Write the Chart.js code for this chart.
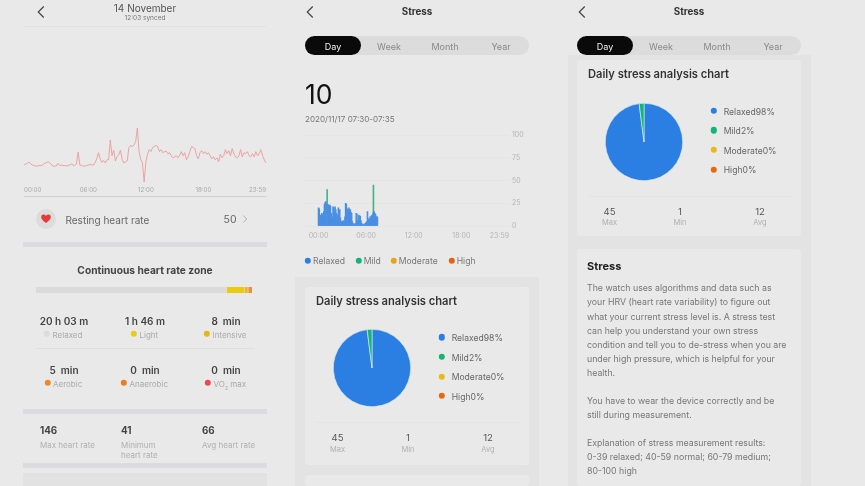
<!DOCTYPE html>
<html>
<head>
<meta charset="utf-8">
<script src="https://cdn.jsdelivr.net/npm/chart.js@4"></script>
<style>
  html, body { margin: 0; padding: 0; }
  body { width: 865px; height: 486px; overflow: hidden; position: relative; background: #e9e9e9; font-family: Inter, "Noto Sans", sans-serif; filter: blur(0.4px); }
  .t { position: absolute; white-space: nowrap; line-height: 1; transform: translateY(-50%); }
  .c { transform: translate(-50%, -50%); }
  .box { position: absolute; }
  .dot { position: absolute; border-radius: 50%; width: 6.4px; height: 6.4px; transform: translate(-50%, -50%); }
  canvas { position: absolute; display: block; }
  svg { position: absolute; overflow: visible; }
</style>
</head>
<body>
<div id="page"></div>
<canvas id="heartChart" width="242" height="72" style="left:24px;top:126px;width:242px;height:72px"></canvas>
<canvas id="zoneChart" width="216" height="6" style="left:36px;top:287px;width:216px;height:6px"></canvas>
<canvas id="stressChart" width="231" height="118" style="left:304px;top:128px;width:231px;height:118px"></canvas>
<canvas id="pieOne" width="82" height="82" style="left:331px;top:327px;width:82px;height:82px"></canvas>
<canvas id="pieTwo" width="82" height="82" style="left:603px;top:101px;width:82px;height:82px"></canvas>
<script>
// heart rate, one reading every 10 min
const heartRate = [
  74, 76, 77, 80, 76, 74, 73, 72, 72, 73, 73, 74, 77, 78, 80, 79, 76, 72, 72, 72, 77, 73, 74, 73,
  73, 72, 73, 74, 76, 74, 73, 76, 99, 74, 73, 72, 72, 73, 74, 75, 74, 74, 79, 86, 98, 86, 79, 83,
  78, 84, 85, 123, 92, 103, 82, 90, 94, 103, 85, 78, 80, 82, 108, 112, 110, 113, 120, 146, 100, 85, 78, 41,
  80, 95, 104, 100, 108, 110, 112, 110, 100, 104, 98, 100, 101, 96, 98, 92, 88, 90, 92, 88, 93, 100, 92, 98,
  84, 90, 100, 110, 108, 106, 92, 86, 98, 102, 96, 100, 95, 98, 92, 86, 90, 84, 88, 80, 95, 88, 92, 104,
  96, 102, 92, 106, 96, 90, 88, 92, 104, 90, 98, 96, 100, 92, 90, 96, 90, 100, 92, 96, 104, 92, 84, 78,
];
const heartTicks = { 0: "00:00", 38: "06:00", 72: "12:00", 106: "18:00", 143: "23:59" };

// stress, one reading every 5 min, up to 07:30
const stressRelaxed = [
  20, 19, 8, 12, 12, 14, 12, 13, 16, 24, 26, 27, 25, 22, 24, 23, 22, 23, 22, 14, 8, 10, 21, 20, 16, 21, 18, 14, 12, 10,
  20, 17, 18, 9, 5, 5, 5, 6, 5, 6, 10, 25, 24, 10, 19, 15, 20, 17, 18, 15, 14, 5, 3, 2, 2, 1, 3, 14, 13, 6,
  4, 12, 10, 11, 6, 3, 2, 1, 1, 2, 2, 3, 4, 5, 16, 8, 7, 8, 10, 9, 11, 12, 13, 15, 16, 14, 13, 11, 9, 10,
];
const stressMildSlots = [13, 83];
const stressMildValues = [40, 45];
const stressTicks = { 0: "00:00", 72: "06:00", 144: "12:00", 216: "18:00", 288: "23:59" };
const stressYTicks = [0, 25, 50, 75, 100];

const levels = ["Relaxed", "Mild", "Moderate", "High"];
const levelShares = [98, 2, 0, 0];
const levelColors = ["#2b7fe3", "#12b577", "#ecb90e", "#e8680f"];
const legendColors = ["#2b7fe3", "#12b577", "#e9a413", "#e5620f"];

const zoneMinutes = [1165, 106, 23, 26];
const zoneColors = ["#dbdbdb", "#e8cc12", "#ecb33a", "#ec8f3c"];

const page = document.getElementById("page");

function text(str, x, y, size, color, weight, center) {
  const el = document.createElement("div");
  el.className = center ? "t c" : "t";
  el.style.cssText = `left:${x}px;top:${y + 0.7}px;font-size:${size}px;color:${color};font-weight:${weight || 400}`;
  el.innerHTML = str;
  page.appendChild(el);
}

function box(x, y, w, h, color, radius) {
  const el = document.createElement("div");
  el.className = "box";
  el.style.cssText = `left:${x}px;top:${y}px;width:${w}px;height:${h}px;background:${color};border-radius:${radius || 0}px`;
  page.appendChild(el);
}

function dot(x, y, color) {
  const el = document.createElement("div");
  el.className = "dot";
  el.style.cssText = `left:${x}px;top:${y}px;background:${color}`;
  page.appendChild(el);
}

function chevron(x, y, dir, size, color, width) {
  const s = document.createElementNS("http://www.w3.org/2000/svg", "svg");
  s.setAttribute("width", 1);
  s.setAttribute("height", 1);
  s.style.cssText = `left:${x}px;top:${y}px`;
  s.innerHTML = `<polyline points="${dir * size},${-size} 0,0 ${dir * size},${size}" transform="translate(${-dir * size / 2},0)" fill="none" stroke="${color}" stroke-width="${width}"/>`;
  page.appendChild(s);
}

// ---- left panel ----
chevron(41, 12, 1, 5.5, "#444", 1.2);
text("14 November", 145, 7, 10, "#555", 400, true);
text("12:03 synced", 145, 17.5, 6.5, "#777", 400, true);
box(24, 25.5, 242, 1, "#e2e2e2");
box(24, 196, 242, 1, "#cfcfcf");

box(36, 209, 20, 20, "#dcdcdc", 10);
const heart = document.createElementNS("http://www.w3.org/2000/svg", "svg");
heart.style.cssText = "left:41px;top:214px";
heart.setAttribute("width", 10);
heart.setAttribute("height", 10);
heart.innerHTML = '<path d="M5 9 C1 6 0.2 4.5 0.2 3 C0.2 1.4 1.4 0.6 2.6 0.6 C3.6 0.6 4.5 1.2 5 2 C5.5 1.2 6.4 0.6 7.4 0.6 C8.6 0.6 9.8 1.4 9.8 3 C9.8 4.5 9 6 5 9 Z" fill="#e8393c"/>';
page.appendChild(heart);
text("Resting heart rate", 65.5, 219, 10, "#666");
text("50", 223.5, 219, 10.5, "#666");
chevron(245, 219, -1, 3.5, "#aaa", 0.9);

box(23, 241.5, 244, 5.5, "#dcdcdf");
text("Continuous heart rate zone", 145, 269, 10.2, "#444", 700, true);

const zoneRowOne = [
  ["20 h 03 m", 64, "Relaxed", 47, "#dcdcdc"],
  ["1 h 46 m", 145, "Light", 134, "#e6cf10"],
  ["8&nbsp; min", 226, "Intensive", 207, "#e9b418"],
];
const zoneRowTwo = [
  ["5&nbsp; min", 64, "Aerobic", 47.5, "#ec8a2a"],
  ["0&nbsp; min", 145, "Anaerobic", 124, "#e87c22"],
  ["0&nbsp; min", 226, "VO<sub style='font-size:5px;line-height:0'>2</sub> max", 208, "#e84a55"],
];
zoneRowOne.forEach((z) => {
  text(z[0], z[1], 320, 10, "#444", 600, true);
  dot(z[3], 334, z[4]);
  text(z[2], z[3] + 5.5, 334, 8, "#aaa");
});
box(36, 347.5, 218, 1, "#dedede");
zoneRowTwo.forEach((z) => {
  text(z[0], z[1], 369, 10, "#444", 600, true);
  dot(z[3], 383, z[4]);
  text(z[2], z[3] + 5.5, 383, 8, "#aaa");
});

box(23, 408.5, 244, 5, "#dcdcdf");
text("146", 40, 430, 9.8, "#444", 700);
text("41", 121, 430, 9.8, "#444", 700);
text("66", 202, 430, 9.8, "#444", 700);
text("Max heart rate", 40, 444.5, 8, "#b0b0b0");
text("Minimum", 121, 444.5, 8, "#b0b0b0");
text("heart rate", 121, 454.5, 8, "#b0b0b0");
text("Avg heart rate", 202, 444.5, 8, "#b0b0b0");
box(23, 462.5, 244, 5, "#dcdcdf");
box(23, 473, 244, 13, "#e2e2e3");

// ---- header used by both stress panels ----
function stressHeader(dx) {
  chevron(310 + dx, 12, 1, 5.5, "#444", 1.2);
  text("Stress", 417 + dx, 11.5, 9.8, "#333", 700, true);
  box(305 + dx, 36, 224, 19, "#dcdcdc", 9.5);
  box(305 + dx, 36, 56, 19, "#0a0a0a", 9.5);
  text("Day", 333 + dx, 45.2, 9, "#eee", 400, true);
  text("Week", 389 + dx, 45.2, 9, "#888", 400, true);
  text("Month", 445 + dx, 45.2, 9, "#888", 400, true);
  text("Year", 501 + dx, 45.2, 9, "#888", 400, true);
}

function analysisCard(dx, dy) {
  text("Daily stress analysis chart", 316 + dx, 301 + dy, 11.15, "#333", 600);
  levels.forEach((name, i) => {
    const y = 337.3 + i * 19.6 + dy;
    dot(441.8 + dx, y, levelColors[i]);
    text(name + levelShares[i] + "%", 451.7 + dx, y, 8.6, "#666");
  });
  box(316 + dx, 422 + dy, 203, 1, "#e4e4e4");
  text("45", 337.5 + dx, 437.7 + dy, 9.5, "#555", 400, true);
  text("Max", 337.5 + dx, 449 + dy, 7.5, "#b0b0b0", 400, true);
  text("1", 408 + dx, 437.7 + dy, 9.5, "#555", 400, true);
  text("Min", 408 + dx, 449 + dy, 7.5, "#b0b0b0", 400, true);
  text("12", 488 + dx, 437.7 + dy, 9.5, "#555", 400, true);
  text("Avg", 488 + dx, 449 + dy, 7.5, "#b0b0b0", 400, true);
}

// ---- middle panel ----
box(295, 277, 244, 209, "#e3e3e3");
box(305, 287, 224, 178, "#e9e9e9", 3);
box(305, 475, 224, 11, "#e9e9e9", 3);
stressHeader(0);
text("10", 305, 93, 26.5, "#111");
text("2020/11/17 07:30-07:35", 305, 118, 8.1, "#777");
levels.forEach((name, i) => {
  const dots = [308, 358.7, 393.7, 451.7];
  dot(dots[i], 260.7, legendColors[i]);
  text(name, dots[i] + 5, 260.7, 8.6, "#777");
});
analysisCard(0, 0);

// ---- right panel ----
box(568, 55, 243, 431, "#e3e3e3");
box(577, 60, 224, 176, "#e9e9e9", 3);
box(577, 249, 224, 237, "#e9e9e9", 3);
stressHeader(272);
analysisCard(272, -226.5);
text("Stress", 587, 265.5, 11, "#222", 700);

const stressNotes = [
  "The watch uses algorithms and data such as",
  "your HRV (heart rate variability) to figure out",
  "what your current stress level is. A stress test",
  "can help you understand your own stress",
  "condition and tell you to de-stress when you are",
  "under high pressure, which is helpful for your",
  "health.",
  "",
  "You have to wear the device correctly and be",
  "still during measurement.",
  "",
  "Explanation of stress measurement results:",
  "0-39 relaxed; 40-59 normal; 60-79 medium;",
  "80-100 high",
];
stressNotes.forEach((line, i) => {
  if (line) text(line, 587, 287.7 + i * 14.05, 8.78, "#777");
});

// ---- charts ----
function noSidePadding(axis, height) {
  axis.height = height;
  axis.paddingLeft = 0;
  axis.paddingRight = 0;
}

new Chart(document.getElementById("heartChart"), {
  type: "line",
  data: {
    labels: heartRate.map((v, i) => i),
    datasets: [{ data: heartRate, borderColor: "#ea9c9b", borderWidth: 0.9, pointRadius: 0, tension: 0 }],
  },
  options: {
    responsive: false,
    animation: false,
    layout: { padding: { top: 2, left: 0, right: 0, bottom: 0 } },
    plugins: { legend: { display: false }, tooltip: { enabled: false } },
    scales: {
      x: {
        grid: { display: false, drawTicks: false },
        border: { display: false },
        afterFit: (axis) => noSidePadding(axis, 16),
        ticks: {
          autoSkip: false,
          maxRotation: 0,
          align: "inner",
          padding: 4,
          font: { family: "Inter", size: 6.2 },
          color: "#a8a8a8",
          callback: (value, index) => heartTicks[index] || "",
        },
      },
      y: { display: false, min: 41, max: 146 },
    },
  },
});

new Chart(document.getElementById("zoneChart"), {
  type: "bar",
  data: {
    labels: ["zone"],
    datasets: zoneMinutes.map((m, i) => ({
      data: [m],
      backgroundColor: zoneColors[i],
      borderColor: "#e9e9e9",
      borderWidth: i > 1 ? { left: 1 } : 0,
      borderSkipped: false,
      barPercentage: 1,
      categoryPercentage: 1,
    })),
  },
  options: {
    indexAxis: "y",
    responsive: false,
    animation: false,
    layout: { padding: 0 },
    plugins: { legend: { display: false }, tooltip: { enabled: false } },
    scales: {
      x: { display: false, stacked: true, min: 0, max: 1320 },
      y: { display: false, stacked: true },
    },
  },
});

new Chart(document.getElementById("stressChart"), {
  type: "bar",
  data: {
    datasets: [
      {
        label: "Relaxed",
        data: stressRelaxed.map((v, i) => ({ x: i, y: v })),
        backgroundColor: "#4a8fe2",
        barThickness: 1,
        order: 1,
      },
      {
        label: "Mild",
        data: stressMildSlots.map((s, i) => ({ x: s, y: stressMildValues[i] })),
        backgroundColor: "#45b386",
        barThickness: 1,
        order: 2,
      },
    ],
  },
  options: {
    responsive: false,
    animation: false,
    datasets: { bar: { grouped: false } },
    layout: { padding: { top: 3, left: 0, right: 0, bottom: 0 } },
    plugins: { legend: { display: false }, tooltip: { enabled: false } },
    scales: {
      x: {
        type: "linear",
        offset: false,
        min: -22,
        max: 288,
        grid: { display: false, drawTicks: false },
        border: { display: false },
        afterFit: (axis) => noSidePadding(axis, 20),
        afterBuildTicks: (axis) => {
          axis.ticks = [{ value: -22 }].concat(Object.keys(stressTicks).map((k) => ({ value: Number(k) })));
        },
        ticks: {
          autoSkip: false,
          maxRotation: 0,
          align: "inner",
          padding: 6,
          font: { family: "Inter", size: 7 },
          color: "#b4b4b4",
          callback: (value) => stressTicks[value] || "",
        },
      },
      y: {
        position: "right",
        min: 0,
        max: 100,
        grid: { color: "#e5e5e5", lineWidth: 1, drawTicks: false },
        border: { display: false },
        afterFit: (axis) => { axis.width = 26; },
        afterBuildTicks: (axis) => { axis.ticks = stressYTicks.map((v) => ({ value: v })); },
        ticks: { padding: 3, font: { family: "Inter", size: 7 }, color: "#b4b4b4" },
      },
    },
  },
});

function drawPie(id) {
  new Chart(document.getElementById(id), {
    type: "pie",
    data: {
      labels: levels,
      datasets: [{ data: levelShares, backgroundColor: levelColors, borderColor: "#e4eee8", borderWidth: 0.6 }],
    },
    options: {
      responsive: false,
      animation: false,
      layout: { padding: 2 },
      plugins: { legend: { display: false }, tooltip: { enabled: false } },
    },
  });
}
drawPie("pieOne");
drawPie("pieTwo");
</script>
</body>
</html>
